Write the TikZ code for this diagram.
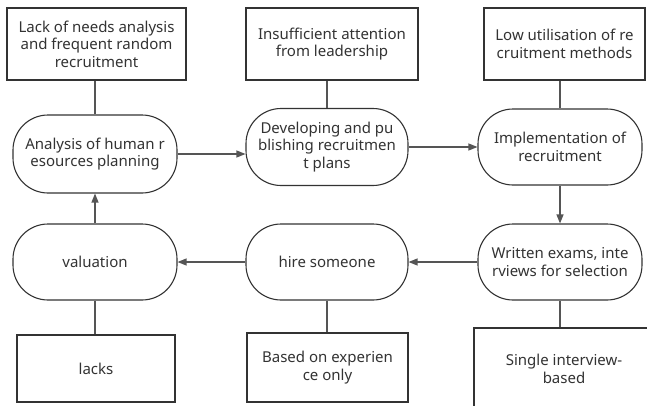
\documentclass[tikz,border=0pt]{standalone}
\usepackage{fontspec}
\setmainfont{Noto Sans}
\usetikzlibrary{arrows.meta}
\definecolor{ink}{HTML}{333333}
\definecolor{wire}{HTML}{555555}
\begin{document}
\begin{tikzpicture}[x=1pt,y=-1pt,
  every node/.style={font=\fontsize{15}{17.5}\selectfont, text=ink, align=center, inner sep=0pt},
  issue/.style={draw=ink, line width=1.2pt, fill=white, minimum width=#1, rectangle},
  issue/.default=170pt,
  stage/.style={draw=ink, line width=1.1pt, fill=white, rounded corners=35pt, minimum width=163pt, minimum height=77pt},
  link/.style={draw=wire, line width=1.2pt},
  flow/.style={link, -{Triangle[length=9pt,width=7pt]}}]
\useasboundingbox (0,0) rectangle (647,405);

% problem boxes along the top
\node[issue=179pt, minimum height=72pt] (b1) at (96.5,44) {Lack of needs analysis\\and frequent random\\recruitment};
\node[issue=172pt, minimum height=72pt] (b2) at (332,44) {Insufficient attention\\from leadership};
\node[issue=161pt, minimum height=72pt] (b3) at (564.5,44) {Low utilisation of re\\cruitment methods};

% process stages
\node[stage, minimum width=164pt, minimum height=78pt] (n1) at (95,154) {Analysis of human r\\esources planning};
\node[stage, minimum width=162pt] (n2) at (327,147) {Developing and pu\\blishing recruitmen\\t plans};
\node[stage, minimum width=164pt, minimum height=76pt] (n3) at (560,147) {Implementation of\\recruitment};
\node[stage, minimum width=164pt, minimum height=76pt] (n4) at (95,262) {valuation};
\node[stage, minimum width=162pt, minimum height=76pt] (n5) at (327,262) {hire someone};
\node[stage, minimum width=164pt, minimum height=76pt] (n6) at (560,262) {Written exams, inte\\rviews for selection};

% problem boxes along the bottom
\node[issue=158pt, minimum height=67pt] (b4) at (96,368.5) {lacks};
\node[issue=161pt, minimum height=69pt] (b5) at (327.5,367.5) {Based on experien\\ce only};
\node[issue=180pt, minimum height=82pt] (b6) at (564,369) {Single interview-\\based};

% problems attached to their stages
\draw[link] (n1.north) -- (n1.north |- b1.south);
\draw[link] (n2.north) -- (n2.north |- b2.south);
\draw[link] (n3.north) -- (n3.north |- b3.south);
\draw[link] (n4.south) -- (n4.south |- b4.north);
\draw[link] (n5.south) -- (n5.south |- b5.north);
\draw[link] (n6.south) -- (n6.south |- b6.north);

% the recruitment cycle
\draw[flow] (n1.east) -- (n1.east -| n2.west);
\draw[flow] (n2.east) -- (n2.east -| n3.west);
\draw[flow] (n3.south) -- (n6.north);
\draw[flow] (n6.west) -- (n5.east);
\draw[flow] (n5.west) -- (n4.east);
\draw[flow] (n4.north) -- (n1.south);
\end{tikzpicture}
\end{document}
